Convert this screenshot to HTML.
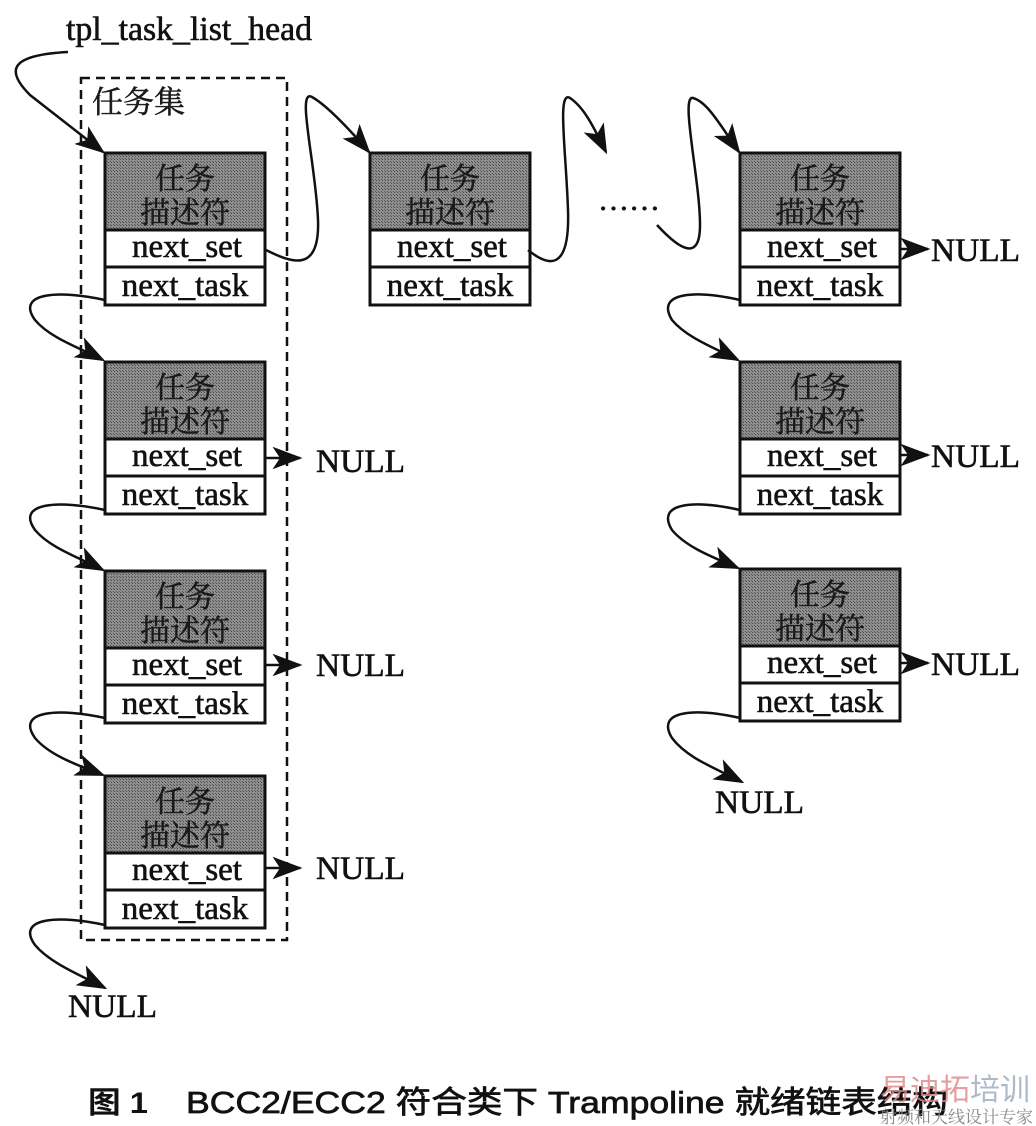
<!DOCTYPE html>
<html><head><meta charset="utf-8"><style>
html,body{margin:0;padding:0;background:#fff;}
svg{display:block;}
.t{font-family:"Liberation Serif","Noto Serif CJK SC",serif;font-size:33px;fill:#111;stroke:#111;stroke-width:0.6;}
.c{font-family:"Noto Serif CJK SC","Liberation Serif",serif;font-size:30px;fill:#1a1a1a;stroke:#1a1a1a;stroke-width:0.5;}
</style></head><body>
<svg width="1036" height="1126" viewBox="0 0 1036 1126" xmlns="http://www.w3.org/2000/svg">
<defs>
<marker id="a" markerWidth="12" markerHeight="9" refX="11" refY="4.5" orient="auto" markerUnits="strokeWidth">
<path d="M0,0 L12,4.5 L0,9 L3,4.5 Z" fill="#111"/></marker>
<pattern id="p" width="3" height="3" patternUnits="userSpaceOnUse">
<rect width="3" height="3" fill="#8e8e8e"/><rect width="1" height="1" fill="#4a4a4a"/><rect x="2" y="2" width="1" height="1" fill="#5a5a5a"/></pattern>
<g id="box">
<rect x="0" y="0" width="160" height="77" fill="url(#p)" stroke="#111" stroke-width="3"/>
<rect x="0" y="77" width="160" height="37" fill="#fff" stroke="#111" stroke-width="3"/>
<rect x="0" y="114" width="160" height="38" fill="#fff" stroke="#111" stroke-width="3"/>
<text class="c" x="80" y="36" text-anchor="middle">任务</text>
<text class="c" x="80" y="70" text-anchor="middle">描述符</text>
<text class="t" x="82" y="104" text-anchor="middle">next_set</text>
<text class="t" x="80" y="143" text-anchor="middle">next_task</text>
</g>
</defs>
<text class="t" x="66" y="40" style="font-size:34px" textLength="246" lengthAdjust="spacingAndGlyphs">tpl_task_list_head</text>
<rect x="81" y="78" width="206" height="862" fill="none" stroke="#111" stroke-width="2.5" stroke-dasharray="9,6"/>
<text class="c" x="92" y="113" style="font-size:31px">任务集</text>

<use href="#box" x="105" y="153"/>
<use href="#box" x="105" y="362"/>
<use href="#box" x="105" y="571"/>
<use href="#box" x="105" y="776"/>
<use href="#box" x="370" y="153"/>
<use href="#box" x="740" y="153"/>
<use href="#box" x="740" y="362"/>
<use href="#box" x="740" y="569"/>

<g fill="none" stroke="#111" stroke-width="2.5" marker-end="url(#a)">
<path d="M68,52 C10,55 5,70 30,95 L103,152"/>
<path d="M105,300 C60,290 15,292 35,320 C50,338 80,348 103,360"/>
<path d="M105,510 C60,500 15,502 35,530 C50,548 80,558 103,570"/>
<path d="M105,718 C60,708 15,710 35,738 C50,756 80,766 103,775"/>
<path d="M105,925 C60,915 15,917 35,945 C50,963 80,975 105,988"/>
<path d="M740,300 C695,290 655,292 672,320 C687,338 715,348 738,360"/>
<path d="M740,510 C695,500 655,502 672,530 C687,548 715,558 738,568"/>
<path d="M740,718 C695,708 655,710 672,738 C687,758 715,768 742,782"/>
<path d="M266,250 C290,262 320,275 318,220 C316,165 296,88 312,97 C328,106 350,130 369,152"/>
<path d="M528,250 C550,268 570,270 568,210 C566,150 557,90 570,98 C585,108 595,130 606,152"/>
<path d="M657,225 C680,250 700,262 700,225 C700,180 680,95 693,98 C708,102 722,128 739,152"/>
<path d="M266,458 L300,458"/>
<path d="M266,665 L300,665"/>
<path d="M266,868 L300,868"/>
<path d="M900,249 L928,249"/>
<path d="M900,455 L928,455"/>
<path d="M900,663 L928,663"/>
</g>
<text class="t" x="598" y="210" style="font-size:30px" textLength="62" lengthAdjust="spacingAndGlyphs">……</text>
<text class="t" x="316" y="472" textLength="89" lengthAdjust="spacingAndGlyphs">NULL</text>
<text class="t" x="316" y="676" textLength="89" lengthAdjust="spacingAndGlyphs">NULL</text>
<text class="t" x="316" y="879" textLength="89" lengthAdjust="spacingAndGlyphs">NULL</text>
<text class="t" x="931" y="261" textLength="89" lengthAdjust="spacingAndGlyphs">NULL</text>
<text class="t" x="931" y="467" textLength="89" lengthAdjust="spacingAndGlyphs">NULL</text>
<text class="t" x="931" y="675" textLength="89" lengthAdjust="spacingAndGlyphs">NULL</text>
<text class="t" x="68" y="1017" textLength="89" lengthAdjust="spacingAndGlyphs">NULL</text>
<text class="t" x="715" y="813" textLength="89" lengthAdjust="spacingAndGlyphs">NULL</text>
<text x="88" y="1113" style="font-family:'Liberation Sans','Noto Sans CJK SC',sans-serif;font-size:30px;fill:#111;font-weight:bold" textLength="60" lengthAdjust="spacingAndGlyphs">图 1</text>
<text x="186" y="1113" style="font-family:'Liberation Sans','Noto Sans CJK SC',sans-serif;font-size:31px;fill:#111;stroke:#111;stroke-width:0.7" textLength="762" lengthAdjust="spacingAndGlyphs">BCC2/ECC2 符合类下 Trampoline 就绪链表结构</text>
<text x="880" y="1100" style="font-family:'Noto Sans CJK SC',sans-serif;font-size:30px;fill:#d88;opacity:.8">易迪拓</text>
<text x="970" y="1100" style="font-family:'Noto Sans CJK SC',sans-serif;font-size:30px;fill:#9ab;opacity:.8">培训</text>
<text x="880" y="1123" style="font-family:'Noto Serif CJK SC',serif;font-size:17px;fill:#888">射频和天线设计专家</text>
</svg>
</body></html>
